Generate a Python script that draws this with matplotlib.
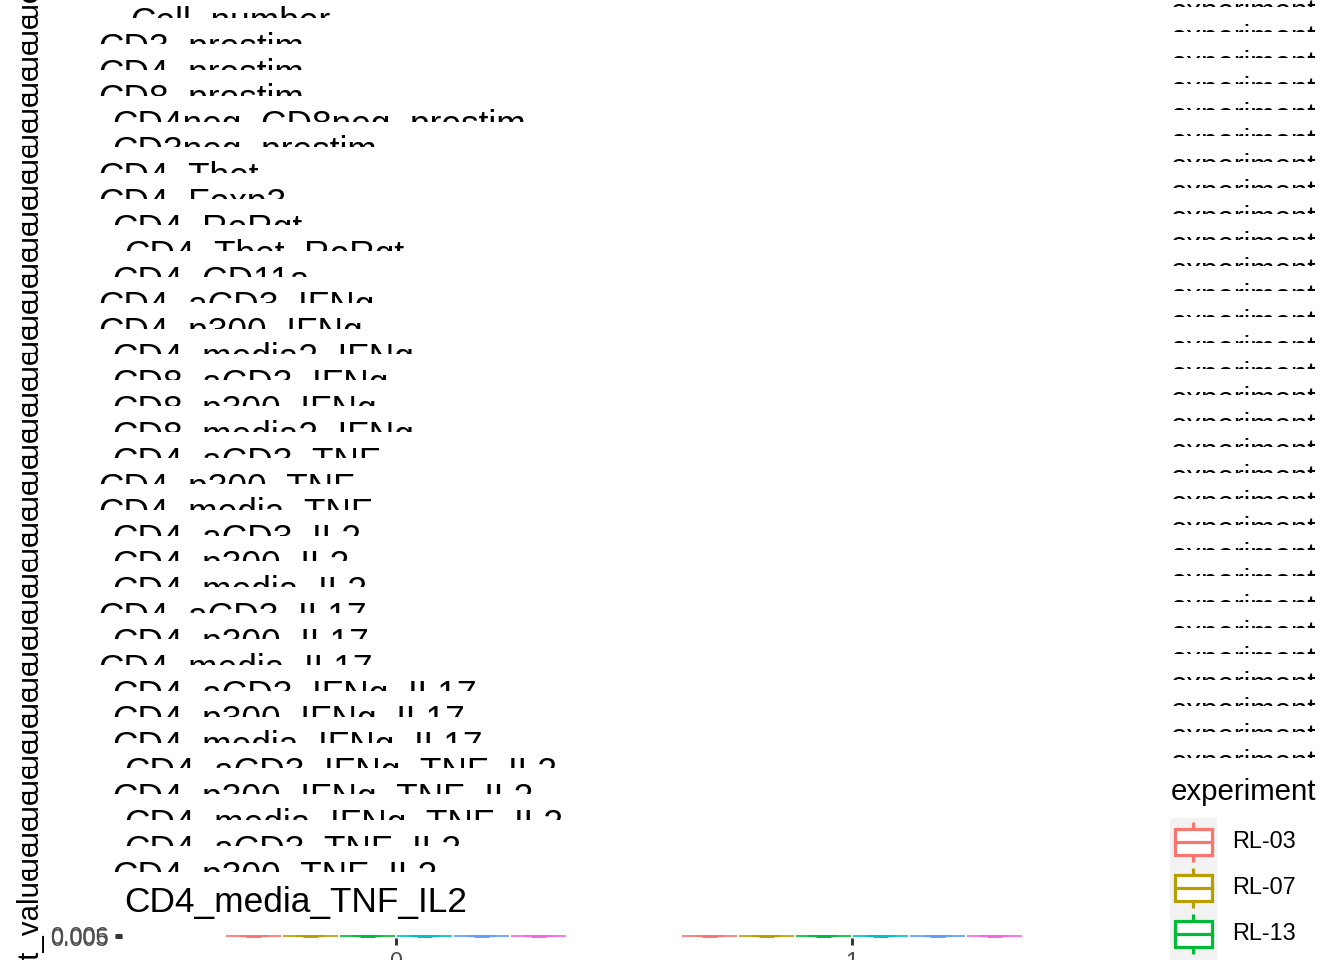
import matplotlib
matplotlib.use("Agg")
import matplotlib.pyplot as plt
from matplotlib.patches import Rectangle
from matplotlib.transforms import Bbox, TransformedBbox
from matplotlib.ticker import FormatStrFormatter

plt.rcParams["font.family"] = ["Liberation Sans", "DejaVu Sans"]

W, H, DPI = 1344, 960, 96

# facet titles, top to bottom (one stacked plot each)
FACETS = [
    "Cell_number", "CD3_prestim", "CD4_prestim", "CD8_prestim",
    "CD4neg_CD8neg_prestim", "CD3neg_prestim", "CD4_Tbet", "CD4_Foxp3",
    "CD4_RoRgt", "CD4_Tbet_RoRgt", "CD4_CD11a", "CD4_aCD3_IFNg",
    "CD4_p300_IFNg", "CD4_media2_IFNg", "CD8_aCD3_IFNg", "CD8_p300_IFNg",
    "CD8_media2_IFNg", "CD4_aCD3_TNF", "CD4_p300_TNF", "CD4_media_TNF",
    "CD4_aCD3_IL2", "CD4_p300_IL2", "CD4_media_IL2", "CD4_aCD3_IL17",
    "CD4_p300_IL17", "CD4_media_IL17", "CD4_aCD3_IFNg_IL17",
    "CD4_p300_IFNg_IL17", "CD4_media_IFNg_IL17", "CD4_aCD3_IFNg_TNF_IL2",
    "CD4_p300_IFNg_TNF_IL2", "CD4_media_IFNg_TNF_IL2", "CD4_aCD3_TNF_IL2",
    "CD4_p300_TNF_IL2", "CD4_media_TNF_IL2",
]
EXPERIMENTS = ["RL-03", "RL-07", "RL-13", "RL-15", "RL-18", "RL-21"]
COLORS = ["#F8766D", "#B79F00", "#00BA38", "#00BFC4", "#619CFF", "#F564E3"]
TIMEPOINTS = [0, 1]
# last facet (CD4_media_TNF_IL2): observations per experiment, timepoint 0 and 1
VALUES_T0 = [
    [0.0054, 0.0055, 0.0056], [0.0054, 0.0055, 0.0056], [0.0054, 0.0055, 0.0056],
    [0.0054, 0.0055, 0.0056], [0.0054, 0.0055, 0.0056], [0.0054, 0.0055, 0.0056],
]
VALUES_T1 = [
    [0.0054, 0.0055, 0.0056], [0.0054, 0.0055, 0.0056], [0.0054, 0.0055, 0.0056],
    [0.0054, 0.0055, 0.0056], [0.0054, 0.0055, 0.0056], [0.0054, 0.0055, 0.0056],
]
Y_TICKS = [0.005, 0.006]
Y_LABEL = "pct_value"
LEGEND_TITLE = "experiment"

# layout, pixels from the top edge
TITLE_X = [130, 98, 98, 98, 112, 112, 98, 98, 112, 124, 112, 98, 98, 112, 112,
           112, 112, 112, 98, 98, 112, 112, 112, 98, 112, 98, 112, 112, 112,
           124, 112, 124, 124, 112, 124]
ROW0, STEP = 6.1, 25.875
N_LEG_FRAG = 30

fig = plt.figure(figsize=(W / DPI, H / DPI), dpi=DPI)
fig.patch.set_facecolor("white")

ov = fig.add_axes([0, 0, 1, 1])
ov.set_xlim(0, W)
ov.set_ylim(0, H)
ov.axis("off")


def Y(y):
    return H - y


def clip_text(x, y, s, y0, y1, **kw):
    t = ov.text(x, Y(y), s, **kw)
    t.set_clip_box(TransformedBbox(Bbox.from_extents(0, Y(y1), W, Y(y0)), ov.transData))
    t.set_clip_on(True)
    return t


n = len(FACETS)
for i, name in enumerate(FACETS):
    top = ROW0 + STEP * i
    last = i == n - 1
    y0 = top - 14
    y1 = H if last else top + 12
    clip_text(TITLE_X[i], top + 25.7, name, y0, y1, fontsize=26.4,
              ha="left", va="baseline", color="black")
    yc = 926 if last else top + 42
    clip_text(29, yc, Y_LABEL, y0, y1, fontsize=22, rotation=90,
              ha="center", va="center", color="black")

# legend titles from every stacked plot, cut off except the last
for k in range(N_LEG_FRAG + 1):
    base = 20 + 25.9 * k
    if k == N_LEG_FRAG:
        base = 800
        clip_text(1171, base, LEGEND_TITLE, base - 30, H, fontsize=22,
                  ha="left", va="baseline")
    else:
        clip_text(1171, base, LEGEND_TITLE, base - 26, base - 13.5, fontsize=22,
                  ha="left", va="baseline")

# legend keys
ov.add_patch(Rectangle((1170, Y(960)), 47, 960 - 818, facecolor="#F2F2F2",
                       edgecolor="none", zorder=1))
for j, (lab, col) in enumerate(zip(EXPERIMENTS, COLORS)):
    cy = 842 + 46 * j
    ov.plot([1193, 1193], [Y(cy - 20), Y(cy - 13)], color=col, lw=2.4,
            solid_capstyle="butt", zorder=2)
    ov.plot([1193, 1193], [Y(cy + 13), Y(cy + 20)], color=col, lw=2.4,
            solid_capstyle="butt", zorder=2)
    ov.add_patch(Rectangle((1174.5, Y(cy + 13)), 37, 26, facecolor="white",
                           edgecolor=col, lw=2.4, zorder=2))
    ov.plot([1174.5, 1211.5], [Y(cy), Y(cy)], color=col, lw=2.4, zorder=3)
    ov.text(1232, Y(cy), lab, fontsize=17.6, ha="left", va="center", color="black")

# the one panel that is drawn (squashed to a few pixels)
ax = fig.add_axes([122 / W, (H - 937.5) / H, (1126 - 122) / W, 3 / H])
ax.set_xlim(-0.6, 1.6)
ax.set_ylim(0.00495, 0.00605)
width = 0.125
for tp, vals in zip(TIMEPOINTS, [VALUES_T0, VALUES_T1]):
    for k, (v, col) in enumerate(zip(vals, COLORS)):
        pos = tp + (k - 2.5) * width
        bp = ax.boxplot([v], positions=[pos], widths=width * 0.96, patch_artist=True,
                        showfliers=False, manage_ticks=False)
        for b in bp["boxes"]:
            b.set(facecolor="white", edgecolor=col, alpha=0.6, lw=1.6)
        for part in ("whiskers", "caps", "medians"):
            for l in bp[part]:
                l.set(color=col, alpha=0.6, lw=1.6)
        med = sorted(v)[len(v) // 2]
        ax.hlines(med, pos - 0.016, pos + 0.016, color=col, lw=2.2)

ax.set_xticks(TIMEPOINTS)
ax.set_xticklabels([str(t) for t in TIMEPOINTS])
ax.set_yticks(Y_TICKS)
ax.yaxis.set_major_formatter(FormatStrFormatter("%.3f"))
for s in ax.spines.values():
    s.set_visible(False)
ax.tick_params(axis="both", length=5.5, width=2.2, color="#333333",
               labelcolor="#4D4D4D", labelsize=17.6, pad=4.4)
ax.patch.set_alpha(0)

fig.savefig("out.png", dpi=DPI)
